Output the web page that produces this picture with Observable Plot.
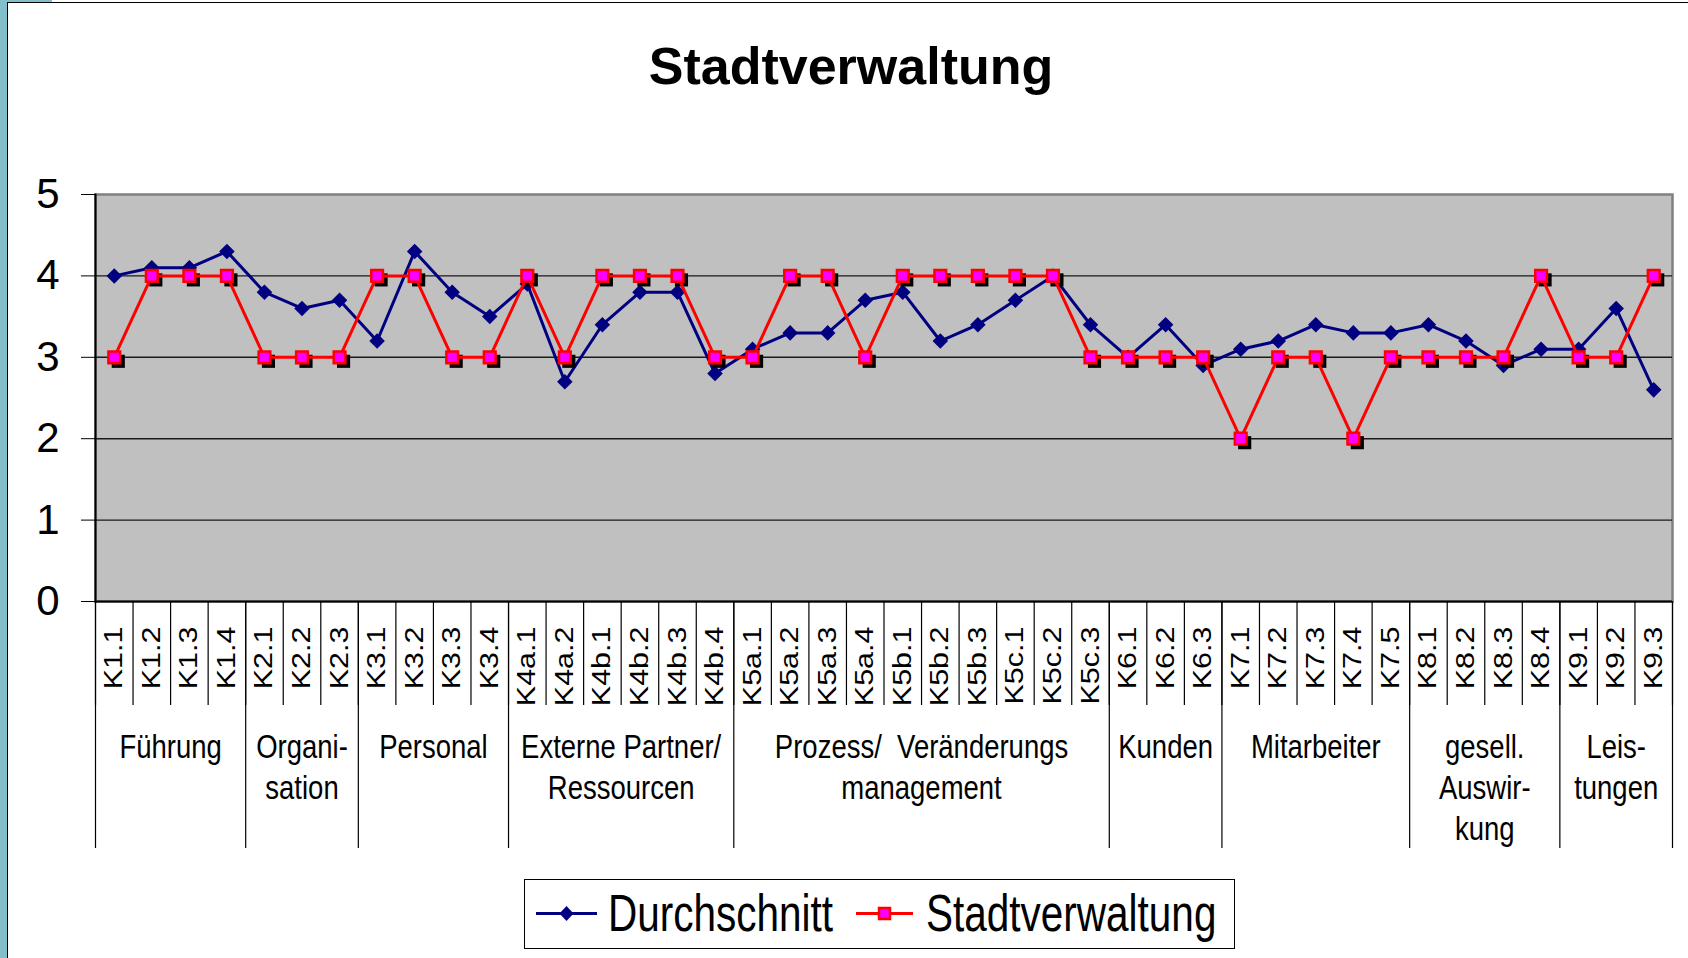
<!DOCTYPE html>
<html>
<head>
<meta charset="utf-8">
<script src="https://cdn.jsdelivr.net/npm/d3@7"></script>
<script src="https://cdn.jsdelivr.net/npm/@observablehq/plot@0.6"></script>
<style>
  html, body { margin: 0; padding: 0; background: #fff; width: 1688px; height: 958px; overflow: hidden;
    font-family: "Liberation Sans", Arial, sans-serif; color: #000; }
  #page { position: relative; width: 1688px; height: 958px; overflow: hidden; }
  #strip { position: absolute; left: 0; top: 0; width: 7px; height: 958px; background: #82BFCB; }
  #striptop { position: absolute; left: 0; top: 0; width: 52px; height: 2px; background: #82BFCB; }
  #frame { position: absolute; left: 7px; top: 2px; width: 1700px; height: 1000px;
    border-left: 1.5px solid #000; border-top: 1.5px solid #000; box-sizing: border-box; }
  #title { position: absolute; left: 0; width: 1702px; top: 40px; text-align: center;
    font-size: 52px; font-weight: bold; line-height: 1; white-space: nowrap; }
  #chart { position: absolute; left: 0; top: 0; }
  #legend { position: absolute; left: 524px; top: 879px; width: 711px; height: 70px;
    border: 1.5px solid #000; box-sizing: border-box; background: #fff; }
  .lg-text { position: absolute; top: 17px; font-size: 40.5px; line-height: 1; white-space: nowrap;
    transform-origin: 0 0.8465em; transform: scale(1, 1.3); }
  .lg-sw { position: absolute; top: 0; }
</style>
</head>
<body>
<div id="page">
  <div id="strip"></div>
  <div id="striptop"></div>
  <div id="frame"></div>
  <div id="chart"></div>
  <div id="title"></div>
  <div id="legend"></div>
</div>
<script>
// ---- data ----
const categories = ["K1.1","K1.2","K1.3","K1.4","K2.1","K2.2","K2.3","K3.1","K3.2","K3.3","K3.4",
  "K4a.1","K4a.2","K4b.1","K4b.2","K4b.3","K4b.4",
  "K5a.1","K5a.2","K5a.3","K5a.4","K5b.1","K5b.2","K5b.3","K5c.1","K5c.2","K5c.3",
  "K6.1","K6.2","K6.3","K7.1","K7.2","K7.3","K7.4","K7.5","K8.1","K8.2","K8.3","K8.4","K9.1","K9.2","K9.3"];
const durchschnitt = [4.0,4.1,4.1,4.3, 3.8,3.6,3.7, 3.2,4.3,3.8,3.5, 3.9,2.7,3.4,3.8,3.8,2.8,
  3.1,3.3,3.3,3.7,3.8,3.2,3.4,3.7,4.0,3.4, 3.0,3.4,2.9, 3.1,3.2,3.4,3.3,3.3, 3.4,3.2,2.9,3.1, 3.1,3.6,2.6];
const stadtverwaltung = [3,4,4,4, 3,3,3, 4,4,3,3, 4,3,4,4,4,3,
  3,4,4,3,4,4,4,4,4,3, 3,3,3, 2,3,3,2,3, 3,3,3,4, 3,3,4];
const groupLabels = ["Führung","Organi-\nsation","Personal","Externe Partner/\nRessourcen",
  "Prozess/\u00a0 Veränderungs\nmanagement","Kunden","Mitarbeiter","gesell.\nAuswir-\nkung","Leis-\ntungen"];
const groupSizes = [4,3,4,6,10,3,5,4,3];
const yTicks = [0,1,2,3,4,5];
const seriesNames = ["Durchschnitt","Stadtverwaltung"];
const titleText = "Stadtverwaltung";

// ---- build ----
document.getElementById("title").textContent = titleText;
const FONT = '"Liberation Sans", Arial, sans-serif';
const W = 1688, H = 870;
const mL = 95, mR = 16, mT = 194, mB = H - 601;
const n = categories.length;
const idx = categories.map((_, i) => i);
const rows = categories.map((k, i) => ({i, k, d: durchschnitt[i], s: stadtverwaltung[i]}));
let start = 0;
const groups = groupLabels.map((label, gi) => {
  const g = {label, first: start, center: start + (groupSizes[gi] - 1) / 2};
  start += groupSizes[gi];
  return g;
});
const itemBounds = idx.map(i => i - 0.5).concat([n - 0.5]);
const groupBounds = groups.map(g => g.first - 0.5).concat([n - 0.5]);
const blank = () => "";
const groupStretch = 1.2;

const chart = Plot.plot({
  width: W, height: H,
  marginLeft: mL, marginRight: mR, marginTop: mT, marginBottom: mB,
  style: {fontFamily: FONT, color: "#000", background: "transparent", overflow: "visible"},
  x: {type: "linear", domain: [-0.5, n - 0.5]},
  y: {domain: [0, 5]},
  marks: [
    Plot.frame({fill: "#C0C0C0", stroke: "#808080", strokeWidth: 2.5}),
    Plot.gridY(yTicks.slice(1, -1), {stroke: "#1a1a1a", strokeOpacity: 1, strokeWidth: 1.4}),
    Plot.frame({anchor: "left", stroke: "#000", strokeWidth: 2}),
    Plot.ruleY([0], {stroke: "#000", strokeWidth: 2}),
    Plot.axisY(yTicks, {tickSize: 14, tickPadding: 22, fontSize: 42, tickFormat: d => String(d), label: null}),
    Plot.axisX(itemBounds, {tickSize: 104, tickFormat: blank, label: null, strokeWidth: 1.2}),
    Plot.axisX(groupBounds, {tickSize: 247, tickFormat: blank, label: null, strokeWidth: 1.2}),
    Plot.axisX(idx, {tickSize: 0, tickPadding: 25, tickRotate: -90, fontSize: 25, label: null,
      tickFormat: i => categories[i]}),
    Plot.text(groups, {
      x: "center", text: "label", frameAnchor: "bottom",
      dy: 127, lineAnchor: "top", lineHeight: 41 / groupStretch / 27.5, fontSize: 27.5, fill: "#000"
    }),
    Plot.line(rows, {x: "i", y: "d", stroke: "#000080", strokeWidth: 3}),
    Plot.dot(rows, {x: "i", y: "d", symbol: "diamond2", r: 7, fill: "#000080", stroke: null}),
    Plot.dot(rows, {x: "i", y: "s", symbol: "square", r: 7.4, fill: "#000", stroke: null, dx: 4, dy: 4}),
    Plot.line(rows, {x: "i", y: "s", stroke: "#FF0000", strokeWidth: 3}),
    Plot.dot(rows, {x: "i", y: "s", symbol: "square", r: 6.6, fill: "#FF00FF", stroke: "#FF0000", strokeWidth: 2.5})
  ]
});

// narrow, tall lettering as in the original
const groupTexts = new Set(groupLabels.map(s => s.replace(/\n/g, "")));
const catTexts = new Set(categories);
d3.select(chart).selectAll("text").each(function () {
  const c = this.textContent;
  let s = null;
  if (groupTexts.has(c)) s = `scale(1,${groupStretch})`;
  else if (catTexts.has(c)) s = "scale(1.22,1)";
  if (s) {
    const t = this.getAttribute("transform") || "";
    this.setAttribute("transform", t + " " + s);
  }
});

document.getElementById("chart").appendChild(chart);

// ---- legend ----
const legend = document.getElementById("legend");
const lg = [
  {name: seriesNames[0], color: "#000080", sym: "diamond", lx: 11, lw: 61, tx: 83},
  {name: seriesNames[1], color: "#FF0000", sym: "square", lx: 331, lw: 57, tx: 401}
];
lg.forEach(item => {
  const svg = d3.create("svg").attr("class", "lg-sw")
    .attr("width", item.lw + 4).attr("height", 68)
    .style("left", (item.lx - 2) + "px");
  const cx = 2 + item.lw / 2, cy = 33.5;
  svg.append("line").attr("x1", 2).attr("x2", 2 + item.lw).attr("y1", cy).attr("y2", cy)
    .attr("stroke", item.color).attr("stroke-width", 3);
  if (item.sym === "diamond") {
    svg.append("path").attr("d", `M${cx},${cy - 7.5}L${cx + 7},${cy}L${cx},${cy + 7.5}L${cx - 7},${cy}Z`)
      .attr("fill", "#000080");
  } else {
    svg.append("rect").attr("x", cx - 5.5).attr("y", cy - 5.5).attr("width", 11).attr("height", 11)
      .attr("fill", "#FF00FF").attr("stroke", "#FF0000").attr("stroke-width", 2.5);
  }
  legend.appendChild(svg.node());
  const t = document.createElement("div");
  t.className = "lg-text";
  t.style.left = item.tx + "px";
  t.textContent = item.name;
  legend.appendChild(t);
});
</script>
</body>
</html>
